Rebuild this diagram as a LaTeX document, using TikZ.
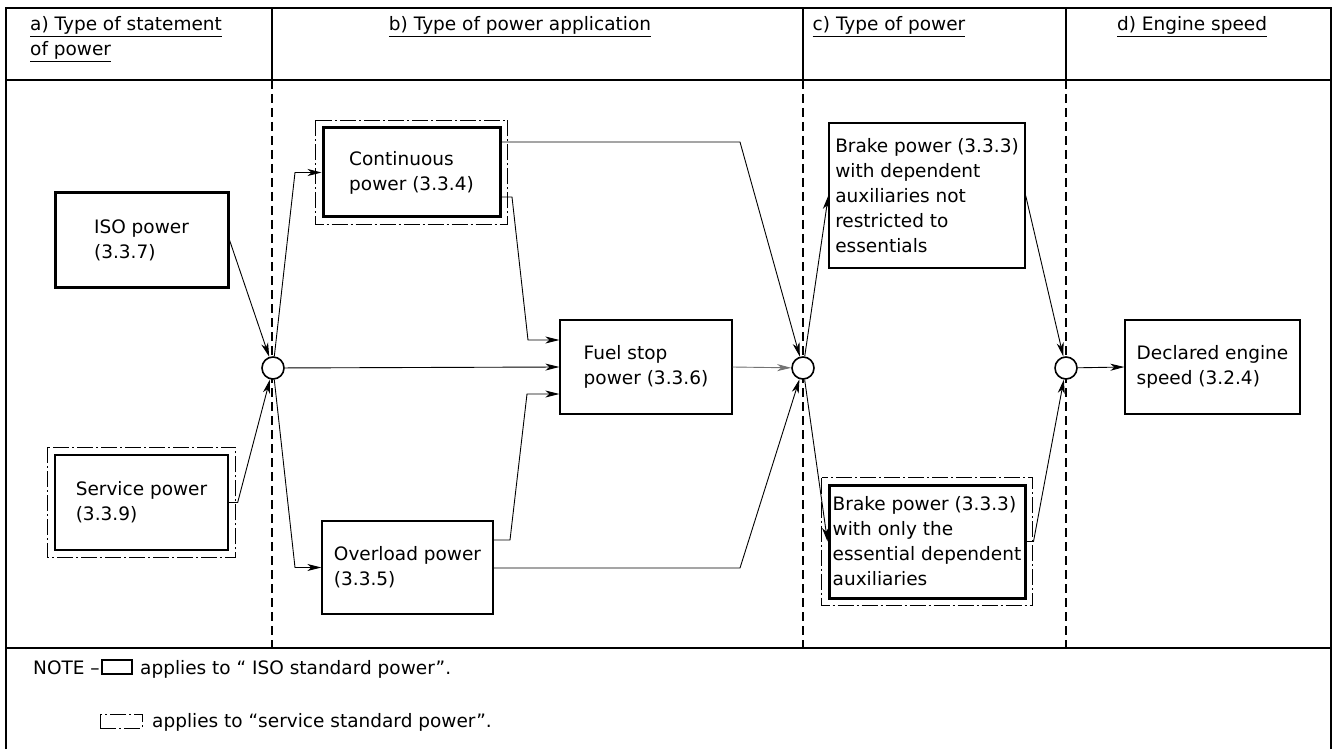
\documentclass[tikz,border=0pt]{standalone}
\usepackage{fontspec}
\setmainfont{DejaVu Sans}
\usetikzlibrary{arrows.meta,calc}
\begin{document}
\begin{tikzpicture}[x=1pt,y=-1pt,
  every node/.style={font=\fontsize{18.5}{25}\selectfont},
  lbl/.style={inner sep=0pt},
  box/.style={draw, line width=1.3pt, align=left, inner sep=0pt},
  isobox/.style={box, line width=3pt},
  frame/.style={line width=2pt},
  sep/.style={line width=1.4pt, dash pattern=on 9pt off 5pt},
  arr/.style={line width=0.9pt, -{Stealth[length=14pt,width=7pt,inset=4pt]}},
  junc/.style={circle, draw, fill=white, line width=1.6pt, minimum size=22pt, inner sep=0pt},
  svcframe/.style={line width=0.9pt, dash pattern=on 16pt off 3pt on 2pt off 3pt},
]
\useasboundingbox (0,0) rectangle (1337,751);
% frame and table lines
\draw[frame] (6,749) -- (6,8) -- (1331,8) -- (1331,749);
\draw[frame] (6,80) -- (1331,80);
\draw[frame] (6,648) -- (1331,648);
\foreach \x in {272,803,1066} {
  \draw[frame] (\x,8) -- (\x,80);
  \draw[sep] (\x,80) -- (\x,648);
}
% headers
\node[lbl, anchor=base west] (ha) at (30,31) {\underline{a) Type of statement}};
\node[lbl, anchor=base west] (ha2) at (30,56) {\underline{of power}};
\node[lbl, anchor=base] (hb) at (520,31) {\underline{b) Type of power application}};
\node[lbl, anchor=base] (hc) at (889,31) {\underline{c) Type of power}};
\node[lbl, anchor=base] (hd) at (1192,31) {\underline{d) Engine speed}};

% boxes
\node[isobox, minimum width=173, minimum height=94] (iso) at (141.5,240) {ISO power\\(3.3.7)};
\node[box, minimum width=173, minimum height=95] (svc) at (141.5,502.5) {Service power\\(3.3.9)};
\draw[svcframe] ($(svc.north west)+(-7pt,7pt)$) rectangle ($(svc.south east)+(7pt,-7pt)$);

\node[isobox, minimum width=177, minimum height=89] (cont) at (411.5,172.5) {Continuous\\power (3.3.4)};
\draw[svcframe] ($(cont.north west)+(-6pt,6pt)$) rectangle ($(cont.south east)+(6pt,-6pt)$);
\node[box, minimum width=172, minimum height=94] (fuel) at (646,367) {Fuel stop\\power (3.3.6)};
\node[box, minimum width=171, minimum height=93] (over) at (407.5,567.5) {Overload power\\(3.3.5)};

\node[box, minimum width=196, minimum height=145] (bt) at (927,195.5) {Brake power (3.3.3)\\with dependent\\auxiliaries not\\restricted to\\essentials};
\node[isobox, minimum width=196, minimum height=113] (bb) at (927,541.5) {Brake power (3.3.3)\\with only the\\essential dependent\\auxiliaries};
\draw[svcframe] ($(bb.north west)+(-6pt,6pt)$) rectangle ($(bb.south east)+(6pt,-6pt)$);
\node[box, minimum width=175, minimum height=94] (decl) at (1212.5,367) {Declared engine\\speed (3.2.4)};

% junctions
\node[junc] (c1) at (273,368) {};
\node[junc] (c2) at (803,368) {};
\node[junc] (c3) at (1066,368) {};

% helper coordinates
\coordinate (k1) at (295,0);
\coordinate (p1) at (740,142);
\coordinate (p2) at (740,568);
\coordinate (q1) at (512,197);
\coordinate (q2) at (528,340);
\coordinate (r1) at (510,540);
\coordinate (r2) at (527,394);

% connectors
\draw[arr] (iso.east) -- (c1);
\draw[arr] (svc.east) -- ++(9,0) -- (c1);
\draw[arr] (c1) -- (k1 |- cont.west) -- (cont.west);
\draw[arr] (c1) -- (k1 |- over.west) -- (over.west);
\draw[arr] (c1) -- (fuel.west);
\draw[arr] (cont.east |- q1) -- (q1) -- (q2) -- (fuel.west |- q2);
\draw[arr] (over.east |- r1) -- (r1) -- (r2) -- (fuel.west |- r2);
\draw[arr] (cont.east |- p1) -- (p1) -- (c2);
\draw[arr] (over.east |- p2) -- (p2) -- (c2);
\draw[arr, draw=black!55, fill=black!55] (fuel.east) -- (c2);
\draw[arr] (c2) -- (bt.west);
\draw[arr] (c2) -- (bb.west);
\draw[arr] (bt.east) -- (c3);
\draw[arr] (bb.east) -- ++(7,0) -- (c3);
\draw[arr] (c3) -- (decl.west);

% note
\node[lbl, anchor=base west] (nt) at (33,674) {NOTE –};
\node[draw, line width=2.5pt, minimum width=30, minimum height=14, inner sep=0pt] (lg1) at (117,667) {};
\node[lbl, anchor=base west] (nt1) at (140,674) {applies to “ ISO standard power”.};
\node[draw, svcframe, minimum width=42, minimum height=14, inner sep=0pt] (lg2) at (121,721) {};
\node[lbl, anchor=base west] (nt2) at (152,727) {applies to “service standard power”.};
\end{tikzpicture}
\end{document}
